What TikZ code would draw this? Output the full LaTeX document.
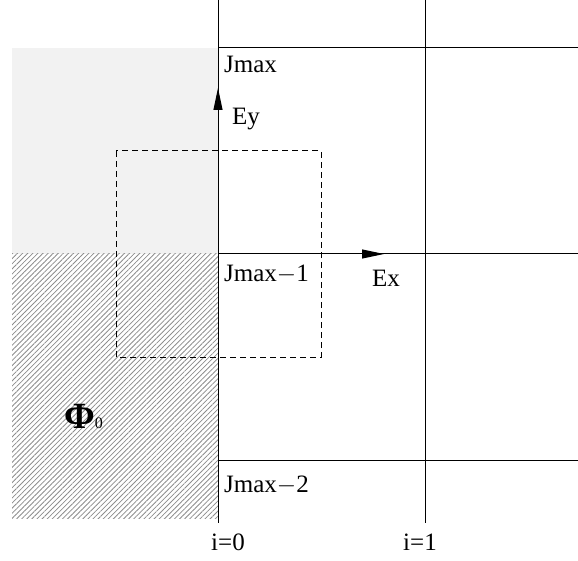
\documentclass[tikz,border=0pt]{standalone}
\usepackage{fontspec}
\setmainfont{Liberation Serif}
\usetikzlibrary{positioning, arrows.meta, patterns.meta}
\definecolor{cellgray}{HTML}{F2F2F2}
\tikzstyle{gridline} = [black, line width=1pt]
\tikzstyle{label} = [inner sep=0pt, anchor=base west, font=\fontsize{25}{30}\selectfont]
\tikzstyle{field} = [-{Triangle[length=22pt,width=9pt]}, line width=1pt]
\tikzstyle{stencil} = [line width=1pt, dash pattern=on 6pt off 4pt]
\tikzstyle{ghost} = [pattern={Lines[angle=45, distance=3.6pt, line width=0.8pt]}, pattern color=gray!90]

\begin{document}
\begin{tikzpicture}[x=1pt, y=-1pt]
    \useasboundingbox (0,0) rectangle (578,561);
    % ghost cells
    \fill [cellgray] (12,48) rectangle (218,254);
    \fill [ghost] (12,254) rectangle (218,518);
    % mesh
    \coordinate (c00) at (218,0);
    \coordinate (c01) at (218,523);
    \coordinate (c10) at (425,0);
    \coordinate (c11) at (425,523);
    \draw [gridline] (c00) -- (c01);
    \draw [gridline] (c10) -- (c11);
    \draw [gridline] (218,48) -- (578,48);
    \draw [gridline] (218,254) -- (578,254);
    \draw [gridline] (218,460) -- (578,460);
    % control volume
    \draw [stencil] (116,151) rectangle (321,357);
    \coordinate (eybot) at (218,151);
    \coordinate (eytop) at (218,88);
    \coordinate (exleft) at (321,254);
    \coordinate (exright) at (384,254);
    \draw [field] (eybot) -- (eytop);
    \draw [field] (exleft) -- (exright);
    % labels
    \node (jmax) [label] at (224,73) {Jmax};
    \node (jmax1) [label] at (224,281) {Jmax$-$1};
    \node (jmax2) [label] at (224,492) {Jmax$-$2};
    \node (ey) [label] at (232,125) {Ey};
    \node (ex) [label] at (372,287) {Ex};
    \node (i0) [label] at (211,550) {i=0};
    \node (i1) [label] at (403,550) {i=1};
    \node (phi) [inner sep=0pt, anchor=base west] at (64,428)
      {\fontsize{37}{37}\selectfont\bfseries Φ\fontsize{16}{16}\mdseries\selectfont 0};
  \end{tikzpicture}
\end{document}
